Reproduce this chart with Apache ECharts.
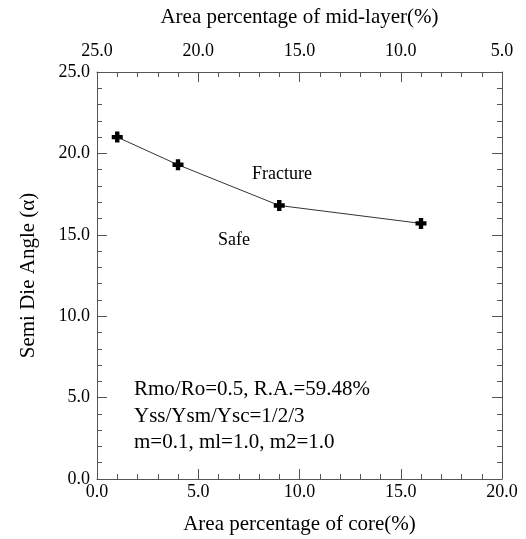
<!DOCTYPE html>
<html>
<head>
<meta charset="utf-8">
<script src="https://cdn.jsdelivr.net/npm/echarts@6/dist/echarts.min.js"></script>
<style>
  html, body { margin: 0; padding: 0; background: #fff; }
  #chart { width: 526px; height: 539px; }
</style>
</head>
<body>
<div id="chart"></div>
<script>
const coreArea = [1, 4, 9, 16];
const dieAngle = [21.0, 19.3, 16.8, 15.7];

const font = "'Liberation Serif', 'Times New Roman', serif";
const ink = "#000";
const frame = "#555";

const fmt = (v) => v.toFixed(1);

const chart = echarts.init(document.getElementById("chart"), null, { renderer: "canvas" });

function tickAxis(extra) {
  return Object.assign({
    type: "value",
    axisLine: { show: true, onZero: false, lineStyle: { color: frame, width: 1 } },
    axisTick: { show: true, inside: true, length: 10, lineStyle: { color: frame } },
    minorTick: { show: true, splitNumber: 5, length: 5, lineStyle: { color: frame } },
    splitLine: { show: false },
    nameTextStyle: { color: ink, fontFamily: font, fontSize: 21 },
  }, extra);
}

function labels(margin) {
  return { color: ink, fontFamily: font, fontSize: 18, formatter: fmt, margin: margin };
}

chart.setOption({
  animation: false,
  grid: { left: 97, right: 24, top: 72, bottom: 60, outerBoundsMode: "none", containLabel: false },
  xAxis: [
    tickAxis({
      position: "bottom", min: 0, max: 20, interval: 5,
      name: "Area percentage of core(%)", nameLocation: "middle", nameGap: 35,
      axisLabel: labels(4),
    }),
    tickAxis({
      position: "top", min: 5, max: 25, interval: 5, inverse: true,
      name: "Area percentage of mid-layer(%)", nameLocation: "middle", nameGap: 44,
      axisLabel: labels(12),
    }),
  ],
  yAxis: [
    tickAxis({
      position: "left", min: 0, max: 25, interval: 5,
      name: "Semi Die Angle (\u03b1)", nameLocation: "middle", nameGap: 58,
      axisLabel: labels(7),
    }),
    tickAxis({
      position: "right", min: 0, max: 25, interval: 5,
      axisLabel: { show: false },
    }),
  ],
  series: [
    {
      type: "line",
      xAxisIndex: 0,
      yAxisIndex: 0,
      data: coreArea.map((x, i) => [x, dieAngle[i]]),
      lineStyle: { color: "#333", width: 1 },
      symbol: "path://M3,0 L7,0 L7,3 L10,3 L10,7 L7,7 L7,10 L3,10 L3,7 L0,7 L0,3 L3,3 Z",
      symbolSize: 11,
      itemStyle: { color: "#000" },
    },
  ],
  graphic: [
    { type: "text", x: 282, y: 174, style: { text: "Fracture", font: "18px " + font, fill: ink, align: "center", verticalAlign: "middle" } },
    { type: "text", x: 234, y: 240, style: { text: "Safe", font: "18px " + font, fill: ink, align: "center", verticalAlign: "middle" } },
    { type: "text", x: 134, y: 389, style: { text: "Rmo/Ro=0.5, R.A.=59.48%", font: "21px " + font, fill: ink, verticalAlign: "middle" } },
    { type: "text", x: 134, y: 416, style: { text: "Yss/Ysm/Ysc=1/2/3", font: "21px " + font, fill: ink, verticalAlign: "middle" } },
    { type: "text", x: 134, y: 442, style: { text: "m=0.1, ml=1.0, m2=1.0", font: "21px " + font, fill: ink, verticalAlign: "middle" } },
  ],
});
</script>
</body>
</html>
